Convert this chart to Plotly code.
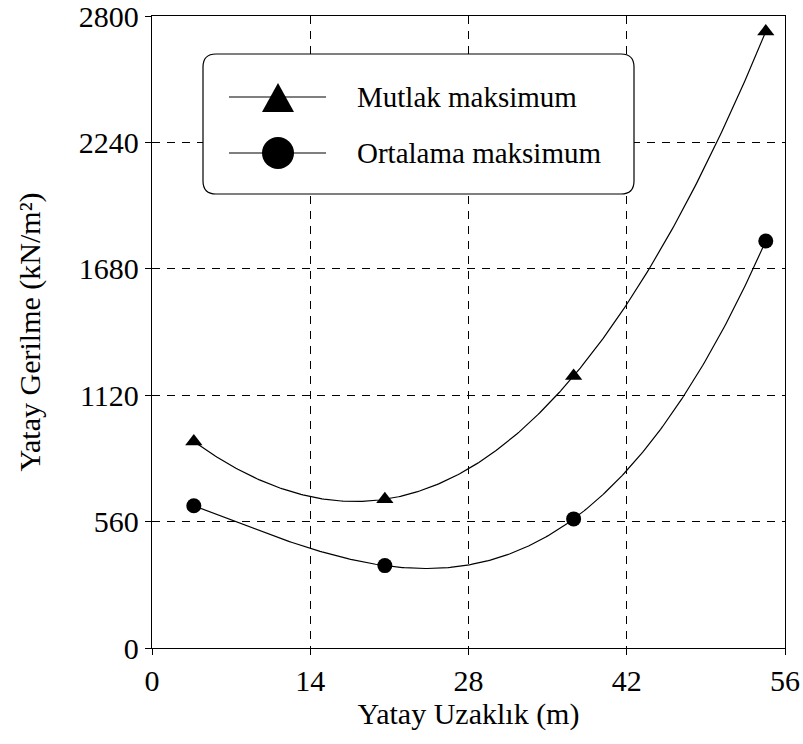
import numpy as np
import plotly.graph_objects as go

# Data
x_pos = [3.7, 20.6, 37.3, 54.3]
mutlak_max = [915, 659, 1205, 2731]
ortalama_max = [630, 365, 572, 1803]
series_names = ["Mutlak maksimum", "Ortalama maksimum"]
x_ticks = [0, 14, 28, 42, 56]
y_ticks = [0, 560, 1120, 1680, 2240, 2800]

W, H = 803, 744
L, R, T, B = 152, 18, 16, 96
PW, PH = W - L - R, H - T - B

FONT = "Liberation Serif, Times New Roman, serif"

def fit_curve(x, y, n=300):
    c = np.polyfit(x, y, 3)
    xs = np.linspace(min(x), max(x), n)
    return xs, np.polyval(c, xs)

fig = go.Figure()
for vals, sym, size in [(mutlak_max, "triangle-up", 15), (ortalama_max, "circle", 15)]:
    xs, ys = fit_curve(x_pos, vals)
    fig.add_trace(go.Scatter(x=xs, y=ys, mode="lines",
                             line=dict(color="black", width=1.2),
                             showlegend=False, hoverinfo="skip"))
    fig.add_trace(go.Scatter(x=x_pos, y=vals, mode="markers",
                             marker=dict(symbol=sym, size=size, color="black"),
                             showlegend=False))

# helpers converting pixel positions to paper coordinates (legend decoration only)
def px(x):
    return (x - L) / PW

def py(y):
    return (T + PH - y) / PH

shapes = []
# rounded legend box
x0, x1, y0, y1, r = 203, 634, 54, 194, 13
rx, ry = r / PW, r / PH
X0, X1, Y0, Y1 = px(x0), px(x1), py(y0), py(y1)
path = (f"M {X0+rx},{Y0} L {X1-rx},{Y0} Q {X1},{Y0} {X1},{Y0-ry} "
        f"L {X1},{Y1+ry} Q {X1},{Y1} {X1-rx},{Y1} "
        f"L {X0+rx},{Y1} Q {X0},{Y1} {X0},{Y1+ry} "
        f"L {X0},{Y0-ry} Q {X0},{Y0} {X0+rx},{Y0} Z")
shapes.append(dict(type="path", path=path, xref="paper", yref="paper",
                   line=dict(color="black", width=1.2), fillcolor="white", layer="above"))

rows = [97, 153]
for i, yc in enumerate(rows):
    shapes.append(dict(type="line", xref="paper", yref="paper",
                       x0=px(229), x1=px(326), y0=py(yc), y1=py(yc),
                       line=dict(color="black", width=1.2), layer="above"))
# triangle symbol
tcx, tcy = 278, rows[0]
tri = (f"M {px(tcx-16)},{py(tcy+15)} L {px(tcx+16)},{py(tcy+15)} "
       f"L {px(tcx)},{py(tcy-14)} Z")
shapes.append(dict(type="path", path=tri, xref="paper", yref="paper",
                   line=dict(color="black", width=0), fillcolor="black", layer="above"))
# circle symbol
ccx, ccy, cr = 278, rows[1], 16
shapes.append(dict(type="circle", xref="paper", yref="paper",
                   x0=px(ccx-cr), x1=px(ccx+cr), y0=py(ccy+cr), y1=py(ccy-cr),
                   line=dict(color="black", width=0), fillcolor="black", layer="above"))

annotations = []
for name, yc in zip(series_names, rows):
    annotations.append(dict(text=name, xref="paper", yref="paper",
                            x=px(355), y=py(yc), xanchor="left", yanchor="middle",
                            showarrow=False, font=dict(family=FONT, size=29, color="black")))

axis_common = dict(
    showgrid=True, gridcolor="black", gridwidth=1, griddash="8px,7px",
    showline=True, linecolor="black", linewidth=1.3, mirror=True,
    ticks="outside", ticklen=6, tickcolor="black", tickwidth=1,
    zeroline=False, automargin=False, ticklabeloverflow="allow",
    tickfont=dict(family=FONT, size=30, color="black"),
)

fig.update_layout(
    width=W, height=H,
    margin=dict(l=L, r=R, t=T, b=B),
    paper_bgcolor="white", plot_bgcolor="white",
    showlegend=False,
    shapes=shapes, annotations=annotations,
    xaxis=dict(range=[0, 56], tickvals=x_ticks, **axis_common,
               title=dict(text="Yatay Uzaklık (m)", standoff=4,
                          font=dict(family=FONT, size=30, color="black"))),
    yaxis=dict(range=[0, 2800], tickvals=y_ticks, **axis_common,
               title=dict(text="Yatay Gerilme (kN/m²)", standoff=29,
                          font=dict(family=FONT, size=30, color="black"))),
)

fig.write_html("out.html", config={"displayModeBar": False},
               post_script="document.body.style.margin='0';")
